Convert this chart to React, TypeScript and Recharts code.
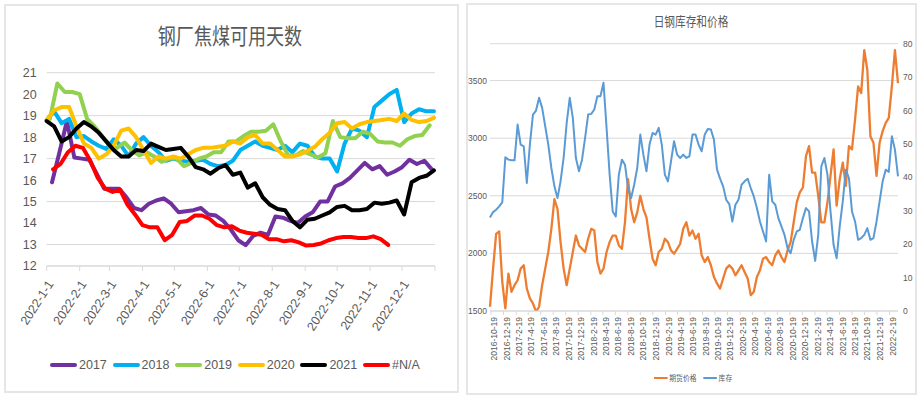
import React from 'react';
import { LineChart, Line, XAxis, YAxis, CartesianGrid } from 'recharts';

const NUM_FONT = '"Liberation Sans Narrow", "Liberation Sans", Arial, sans-serif';
const CJK_FONT = '"Noto Sans CJK SC", "Noto Sans", sans-serif';
const TEXT = '#595959';
const GRID = '#d9d9d9';

// ---------- left: 钢厂焦煤可用天数 (weekly, each year laid on a 2022 calendar)
const monthLabels = [
	'2022-1-1', '2022-2-1', '2022-3-1', '2022-4-1', '2022-5-1', '2022-6-1',
	'2022-7-1', '2022-8-1', '2022-9-1', '2022-10-1', '2022-11-1', '2022-12-1',
];
const dayAxisTicks = [12, 13, 14, 15, 16, 17, 18, 19, 20, 21];

const y2017 = [
	15.9, 17.3, 18.75, 17.05, 17.0, 16.95, 16.3, 15.6, 15.6, 15.6,
	15.2, 14.7, 14.6, 14.9, 15.05, 15.15, 14.9, 14.5, 14.55, 14.6,
	14.7, 14.4, 14.35, 14.1, 13.7, 13.2, 12.97, 13.4, 13.55, 13.45,
	14.3, 14.25, 14.1, 14.0, 14.3, 14.5, 15.0, 15.0, 15.7, 15.85,
	16.1, 16.45, 16.8, 16.5, 16.65, 16.25, 16.4, 16.6, 16.95, 16.75,
	16.9, 16.5,
];
const y2018 = [
	18.8, 19.2, 18.65, 18.85, 18.0, 18.05, 17.8, 17.6, 17.45, 17.9,
	17.6, 17.1, 17.7, 18.0, 17.6, 17.3, 16.9, 17.0, 16.9, 16.85,
	16.9, 16.95, 16.75, 16.65, 16.7, 16.9, 17.4, 17.6, 17.8, 17.6,
	17.5, 17.4, 17.6, 17.3, 17.7, 17.6, 17.1, 17.0, 17.0, 16.4,
	17.7, 18.4, 18.3, 18.0, 19.4, 19.7, 20.0, 20.2, 18.7, 19.1,
	19.3, 19.2, 19.2,
];
const y2019 = [
	18.85, 20.5, 20.1, 20.1, 20.0, 18.85, 18.5, 18.05, 17.6, 17.5,
	17.75, 17.4, 17.15, 17.3, 17.1, 16.85, 17.0, 17.0, 16.65, 16.8,
	17.0, 17.1, 17.3, 17.3, 17.8, 17.8, 18.05, 18.25, 18.25, 18.3,
	18.6, 17.8, 17.15, 17.15, 17.35, 17.2, 17.05, 17.25, 18.75, 18.0,
	17.95, 17.95, 18.25, 18.15, 17.8, 17.75, 17.75, 17.6, 17.9, 18.05,
	18.1, 18.55,
];
const y2020 = [
	18.8, 19.25, 19.4, 19.4, 18.5, 17.7, 17.5, 17.0, 17.2, 17.6,
	18.3, 18.4, 18.0, 17.4, 16.8, 17.1, 17.0, 17.1, 17.0, 17.2,
	17.4, 17.5, 17.5, 17.55, 17.6, 17.8, 17.7, 18.0, 18.1, 17.7,
	17.7, 17.4, 17.1, 17.1, 17.2, 17.35, 17.55, 17.9, 18.2, 18.65,
	18.7, 18.4, 18.6, 18.7, 18.75, 18.8, 18.85, 18.75, 19.1, 18.8,
	18.7, 18.75, 18.9,
];
const y2021 = [
	18.75, 18.5, 17.8, 18.0, 18.4, 18.7, 18.5, 18.2, 17.8, 17.4,
	17.1, 17.1, 17.4, 17.35, 17.7, 17.55, 17.4, 17.45, 17.5, 17.1,
	16.6, 16.5, 16.3, 16.55, 16.7, 16.25, 16.35, 15.65, 15.85, 15.2,
	14.85, 14.65, 14.6, 14.1, 13.8, 14.15, 14.2, 14.35, 14.5, 14.75,
	14.8, 14.6, 14.6, 14.65, 14.95, 14.9, 14.95, 15.05, 14.4, 15.9,
	16.1, 16.2, 16.45,
];
const yNA = [
	16.5, 16.75, 17.3, 17.6, 17.5, 16.9, 16.1, 15.6, 15.45, 15.55,
	14.85, 14.4, 13.9, 13.8, 13.8, 13.2, 13.45, 14.05, 14.1, 14.35,
	14.35, 14.2, 13.9, 13.8, 13.85, 13.65, 13.55, 13.5, 13.45, 13.25,
	13.25, 13.15, 13.2, 13.1, 12.95, 12.98, 13.05, 13.2, 13.3, 13.35,
	13.35, 13.3, 13.3, 13.38, 13.25, 12.98,
];

const yearSeries = [
	{ name: '2017', color: '#7030A0', firstDay: 5, values: y2017 },
	{ name: '2018', color: '#00B0F0', firstDay: 0, values: y2018 },
	{ name: '2019', color: '#92D050', firstDay: 3, values: y2019 },
	{ name: '2020', color: '#FFC000', firstDay: 0, values: y2020 },
	{ name: '2021', color: '#000000', firstDay: 0, values: y2021 },
	{ name: '#N/A', color: '#FF0000', firstDay: 6, values: yNA },
];

// ---------- right: 日钢库存和价格 (sampled every 15 days from 2016-10-19)
const dateLabels = [
	'2016-10-19', '2016-12-19',
	'2017-2-19', '2017-4-19', '2017-6-19', '2017-8-19', '2017-10-19', '2017-12-19',
	'2018-2-19', '2018-4-19', '2018-6-19', '2018-8-19', '2018-10-19', '2018-12-19',
	'2019-2-19', '2019-4-19', '2019-6-19', '2019-8-19', '2019-10-19', '2019-12-19',
	'2020-2-19', '2020-4-19', '2020-6-19', '2020-8-19', '2020-10-19', '2020-12-19',
	'2021-2-19', '2021-4-19', '2021-6-19', '2021-8-19', '2021-10-19', '2021-12-19',
	'2022-2-19',
];
const priceTicks = [1500, 2000, 2500, 3000, 3500];
const stockTicks = [0, 10, 20, 30, 40, 50, 60, 70, 80];

const futuresPrice = [
	1537, 1868, 2170, 2190, 1753, 1523, 1825, 1667, 1724, 1767,
	1868, 1897, 1695, 1609, 1566, 1494, 1537, 1724, 1868, 2012,
	2213, 2471, 2385, 2098, 1868, 1724, 1868, 2012, 2155, 2069,
	2040, 2012, 2127, 2213, 2198, 1925, 1825, 1868, 2012, 2098,
	2155, 2155, 2069, 2040, 2270, 2644, 2385, 2270, 2356, 2500,
	2385, 2313, 2127, 1954, 1897, 2012, 2040, 2127, 2098, 2026,
	1997, 2040, 2083, 2213, 2270, 2155, 2198, 2127, 2170, 1983,
	1925, 1968, 1897, 1796, 1739, 1695, 1782, 1868, 1897, 1868,
	1810, 1853, 1897, 1839, 1782, 1638, 1667, 1796, 1853, 1954,
	1968, 1925, 1897, 1983, 2026, 1968, 1925, 2026, 2098, 2270,
	2443, 2529, 2572, 2845, 2931, 2701, 2701, 2500, 2270, 2270,
	2443, 2673, 2903, 2414, 2644, 2788, 2586, 2931, 2903, 3161,
	3449, 3391, 3765, 3592, 3017, 2960, 2673, 2960, 3061, 3132,
	3176, 3449, 3765, 3477,
];
const inventory = [
	28.0, 29.6, 30.3, 31.3, 32.5, 46.0, 45.3, 45.1, 45.1, 55.8,
	49.8, 49.3, 38.3, 49.8, 58.8, 60.0, 63.8, 60.8, 55.3, 49.8,
	42.8, 37.3, 33.8, 38.8, 45.8, 56.3, 63.8, 57.8, 45.8, 41.8,
	45.3, 51.8, 58.8, 59.0, 60.3, 64.3, 64.3, 68.3, 54.8, 40.8,
	29.8, 28.3, 40.8, 45.3, 43.8, 36.8, 33.8, 37.8, 42.8, 52.8,
	46.8, 41.8, 49.8, 53.3, 52.8, 54.8, 49.8, 40.8, 38.8, 44.8,
	50.8, 46.8, 45.8, 46.8, 45.8, 46.3, 52.8, 52.8, 49.8, 47.8,
	52.8, 54.5, 54.3, 51.3, 42.3, 39.6, 37.3, 33.3, 32.0, 26.8,
	31.8, 33.3, 37.8, 38.8, 39.6, 36.8, 34.3, 30.8, 26.8, 23.8,
	20.8, 40.8, 32.8, 31.8, 27.8, 25.3, 22.8, 18.8, 17.3, 21.3,
	23.8, 24.3, 27.8, 30.8, 29.8, 20.8, 15.0, 22.8, 43.3, 45.8,
	40.8, 29.8, 19.8, 15.8, 25.3, 32.8, 42.3, 39.8, 29.8, 26.8,
	21.3, 21.8, 22.8, 24.8, 21.3, 21.8, 26.8, 32.8, 38.8, 42.3,
	41.6, 52.3, 48.3, 40.3,
];

const DAY = 86400000;
const dayOf = (label: string, base: number) => {
	const [y, m, d] = label.split('-').map(Number);
	return Math.round((Date.UTC(y, m - 1, d) - base) / DAY);
};

const base2022 = Date.UTC(2022, 0, 1);
const monthTickDays = [...monthLabels.map((l) => dayOf(l, base2022)), 365];
const monthLabelByDay: Record<number, string> = {};
monthLabels.forEach((l) => (monthLabelByDay[dayOf(l, base2022)] = l));

const base2016 = Date.UTC(2016, 9, 19);
const dateTickDays = dateLabels.map((l) => dayOf(l, base2016));
const dateLabelByDay: Record<number, string> = {};
dateLabels.forEach((l) => (dateLabelByDay[dayOf(l, base2016)] = l));

const stockRows = futuresPrice.map((p, i) => ({ d: i * 15 - 5, price: p, stock: inventory[i] }));

function CoalDaysChart() {
	return (
		<div style={{ position: 'absolute', left: 0, top: 0, width: 460, height: 396 }}>
			<div
				style={{
					position: 'absolute', left: 0, top: 22, width: 460, textAlign: 'center',
					fontFamily: CJK_FONT, fontSize: 22, lineHeight: '24px', color: TEXT,
					transform: 'scaleX(0.82)',
				}}
			>
				钢厂焦煤可用天数
			</div>
			<LineChart width={460} height={396} margin={{ top: 72.7, right: 25, bottom: 40, left: 6.7 }}>
				<CartesianGrid vertical={false} stroke={GRID} />
				<XAxis
					type="number"
					dataKey="d"
					domain={[0, 365]}
					ticks={monthTickDays}
					interval={0}
					tickFormatter={(d: number) => monthLabelByDay[d] ?? ''}
					angle={-57}
					textAnchor="end"
					height={90}
					tickSize={5}
					tickMargin={8}
					axisLine={{ stroke: GRID }}
					tickLine={{ stroke: GRID }}
					tick={{ fontSize: 12.5, fill: TEXT, fontFamily: NUM_FONT }}
				/>
				<YAxis
					type="number"
					domain={[12, 21]}
					ticks={dayAxisTicks}
					width={40}
					axisLine={false}
					tickLine={false}
					tickSize={0}
					tickMargin={10}
					tick={{ fontSize: 12.5, fill: TEXT, fontFamily: NUM_FONT }}
				/>
				{yearSeries.map((s) => (
					<Line
						key={s.name}
						data={s.values.map((v, i) => ({ d: s.firstDay + 7 * i, v }))}
						dataKey="v"
						name={s.name}
						stroke={s.color}
						strokeWidth={4}
						strokeLinejoin="round"
						strokeLinecap="round"
						dot={false}
						isAnimationActive={false}
					/>
				))}
			</LineChart>
			{yearSeries.map((s, i) => (
				<div
					key={s.name}
					style={{
						position: 'absolute', left: 50 + i * 62.6, top: 357, height: 16,
						display: 'flex', alignItems: 'center',
					}}
				>
					<div style={{ width: 27, height: 4, background: s.color, borderRadius: 2 }} />
					<span style={{ marginLeft: 2, fontFamily: NUM_FONT, fontSize: 12.5, color: TEXT }}>{s.name}</span>
				</div>
			))}
		</div>
	);
}

function StockPriceChart() {
	return (
		<div style={{ position: 'absolute', left: 460, top: 0, width: 459, height: 396 }}>
			<div
				style={{
					position: 'absolute', left: 0, top: 13, width: 462, textAlign: 'center',
					fontFamily: CJK_FONT, fontSize: 13, lineHeight: '15px', color: TEXT,
					transform: 'scaleX(0.82)',
				}}
			>
				日钢库存和价格
			</div>
			<LineChart width={459} height={396} data={stockRows} margin={{ top: 43.7, right: 0, bottom: 25, left: 0 }}>
				<CartesianGrid vertical={false} stroke={GRID} yAxisId="price" />
				<XAxis
					type="number"
					dataKey="d"
					domain={[-5, 1990]}
					ticks={dateTickDays}
					interval={0}
					tickFormatter={(d: number) => dateLabelByDay[d] ?? ''}
					angle={-90}
					textAnchor="end"
					height={60}
					tickSize={4}
					tickMargin={2}
					axisLine={{ stroke: GRID }}
					tickLine={{ stroke: GRID }}
					tick={{ fontSize: 8.5, fill: TEXT, fontFamily: '"Liberation Sans", Arial, sans-serif' }}
				/>
				<YAxis
					yAxisId="price"
					orientation="left"
					type="number"
					domain={[1500, 3820]}
					ticks={priceTicks}
					allowDataOverflow
					width={30}
					axisLine={false}
					tickLine={false}
					tickSize={0}
					tickMargin={3}
					tick={{ fontSize: 8.5, fill: TEXT, fontFamily: NUM_FONT }}
				/>
				<YAxis
					yAxisId="stock"
					orientation="right"
					type="number"
					domain={[0, 80]}
					ticks={stockTicks}
					width={21}
					axisLine={false}
					tickLine={false}
					tickSize={0}
					tickMargin={5}
					tick={{ fontSize: 8.5, fill: TEXT, fontFamily: NUM_FONT }}
				/>
				<Line
					yAxisId="price"
					dataKey="price"
					name="期货价格"
					stroke="#ED7D31"
					strokeWidth={2.3}
					strokeLinejoin="round"
					dot={false}
					isAnimationActive={false}
				/>
				<Line
					yAxisId="stock"
					dataKey="stock"
					name="库存"
					stroke="#5B9BD5"
					strokeWidth={2}
					strokeLinejoin="round"
					dot={false}
					isAnimationActive={false}
				/>
			</LineChart>
			<div
				style={{
					position: 'absolute', left: 194, top: 372, display: 'flex', alignItems: 'center',
					fontFamily: CJK_FONT, fontSize: 8, color: TEXT, transform: 'scaleX(0.85)', transformOrigin: 'left center',
				}}
			>
				<div style={{ width: 16, height: 2, background: '#ED7D31' }} />
				<span style={{ marginLeft: 2, marginRight: 8 }}>期货价格</span>
				<div style={{ width: 16, height: 2, background: '#5B9BD5' }} />
				<span style={{ marginLeft: 2 }}>库存</span>
			</div>
		</div>
	);
}

export default function App() {
	return (
		<div style={{ position: 'absolute', left: 0, top: 0, width: 919, height: 396, background: '#fff', overflow: 'hidden' }}>
			<div style={{ position: 'absolute', left: 4, top: 4, width: 451, height: 385, border: '2px solid #e6e6e6' }} />
			<div style={{ position: 'absolute', left: 466, top: 3, width: 447, height: 388, border: '2px solid #e6e6e6' }} />
			<CoalDaysChart />
			<StockPriceChart />
		</div>
	);
}
